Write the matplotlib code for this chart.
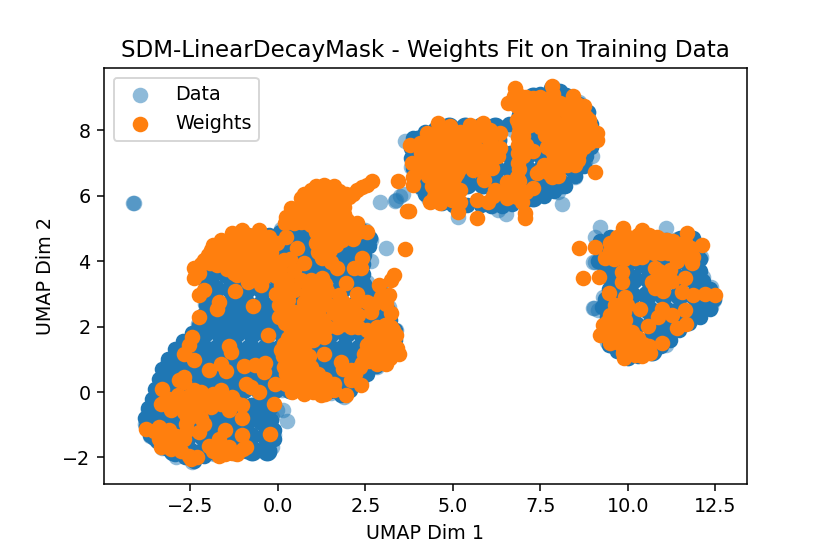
import matplotlib
matplotlib.use("Agg")
import matplotlib.pyplot as plt

BLUE = "#1f77b4"
ORANGE = "#ff7f0e"

# --- Data series: sparse outer points
data_edge = [
    (-3.80,-0.97),(-3.70,-0.56),(-3.50,-0.15),(-3.36,0.36),(-3.17,0.87),(-2.90,1.20),(-2.52,1.58),(-2.28,2.09),
    (-2.08,2.70),(-2.03,3.21),(-2.28,3.78),(-1.95,4.22),(-1.60,4.62),(-1.12,4.85),(-0.49,4.85),(0.08,4.98),
    (-3.66,-1.33),(-3.32,-1.72),(-2.90,-1.98),(-2.45,-2.15),(-1.83,-1.90),(-1.26,-1.85),(-0.68,-1.80),(-0.16,-1.68),
    (-0.10,-1.30),(-0.18,-0.76),(-0.26,-0.25),(0.12,0.06),(0.74,0.03),(1.51,-0.02),(1.89,-0.16),(2.36,0.30),
    (2.82,0.76),(3.33,1.28),(3.37,1.89),(3.18,2.60),(3.04,3.05),(2.48,3.25),(2.42,4.13),(2.65,4.64),(2.48,4.95),
    (3.63,7.66),(3.80,6.89),(4.12,6.20),(4.30,5.92),(4.63,5.80),(6.11,5.69),(7.30,5.94),(8.00,6.12),(8.48,6.58),
    (8.78,7.00),(9.07,7.86),(8.85,8.55),(8.60,8.85),(7.87,9.32),(7.44,9.08),(6.88,8.47),(6.30,8.10),(4.18,7.85),
    (9.06,4.75),(9.18,3.98),(9.48,3.55),(9.30,2.91),(9.40,1.52),(9.54,1.42),(10.01,1.05),(10.63,1.25),(11.10,1.45),
    (11.40,1.95),(11.95,2.30),(12.36,2.60),(12.45,2.81),(12.36,3.22),(12.14,3.52),(12.08,4.14),(12.03,4.50),(11.75,4.70),(11.39,4.68),
]
data_outliers = [
    (0.27,-0.87),(0.13,-0.56),(-0.02,-0.56),(3.08,4.39),(2.92,5.82),(-4.14,5.78),(-4.12,5.78),(3.34,5.84),(3.36,5.86),(3.50,5.98),(3.58,6.05),
    (5.13,5.36),(6.52,5.44),(8.11,5.74),(8.96,7.20),(6.72,8.01),(6.30,5.55),(9.20,5.05),(11.09,5.00),(9.01,2.58),(9.03,2.56),(9.15,2.50),
    (9.01,3.98),(9.06,3.96),(2.55,3.35),(2.65,4.00),
]

# --- Data series: solid boundary of each blob
data_ring_main = [
    (0.05,4.9),(-0.25,4.8),(-0.55,4.8),(-0.85,4.8),(-1.15,4.75),(-1.45,4.6),(-1.7,4.4),(-1.95,4.15),(-2.15,3.85),(-2.2,3.55),
    (-2.05,3.25),(-2.0,2.95),(-2.05,2.65),(-2.15,2.35),(-2.25,2.05),(-2.45,1.8),(-2.7,1.55),(-2.95,1.3),(-3.15,1.0),(-3.3,0.7),
    (-3.4,0.4),(-3.5,0.1),(-3.6,-0.2),(-3.7,-0.5),(-3.8,-0.8),(-3.78,-1.05),(-3.65,-1.3),(-3.45,-1.5),(-3.2,-1.7),(-2.95,-1.9),
    (-2.65,-2.0),(-2.4,-2.1),(-2.1,-1.95),(-1.8,-1.85),(-1.5,-1.82),(-1.2,-1.82),(-0.9,-1.8),(-0.6,-1.78),(-0.3,-1.7),(-0.12,-1.45),
    (-0.12,-1.15),(-0.2,-0.85),(-0.25,-0.55),(-0.3,-0.3),(0.0,0.1),(0.3,0.08),(0.6,0.08),(0.9,0.05),(1.2,0.05),(1.5,0.02),(1.8,-0.1),
    (2.05,0.05),(2.3,0.3),(2.55,0.55),(2.8,0.8),(3.05,1.05),(3.3,1.3),(3.35,1.6),(3.33,1.9),(3.2,2.2),(3.15,2.5),(3.05,2.8),(2.95,3.05),
    (2.7,3.1),(2.45,3.3),(2.42,3.6),(2.42,3.9),(2.45,4.2),(2.6,4.45),(2.62,4.7),(2.45,4.9),(2.3,5.05),
]
data_ring_upper = [
    (3.85,7.75),(3.8,7.45),(3.8,7.15),(3.85,6.85),(3.9,6.55),(4.05,6.3),(4.2,6.05),(4.4,5.85),(4.7,5.78),(5.0,5.72),(5.4,5.72),
    (5.8,5.72),(6.1,5.68),(6.4,5.68),(6.7,5.75),(7.0,5.8),(7.3,5.95),(7.6,6.0),(7.9,6.15),(8.2,6.3),(8.5,6.6),(8.75,6.9),(8.8,7.2),
    (8.95,7.5),(9.05,7.85),(8.95,8.2),(8.85,8.55),(8.6,8.8),(8.3,9.0),(8.05,9.2),(7.8,9.3),(7.5,9.1),(7.2,9.0),(6.95,8.75),(6.9,8.45),
    (6.6,8.2),(6.3,8.1),(6.0,8.0),(5.7,8.0),(5.4,8.0),(5.1,8.0),(4.8,8.0),(4.5,8.05),(4.2,7.95),
]
data_ring_right = [
    (9.2,4.6),(9.3,4.3),(9.15,4.0),(9.35,3.75),(9.5,3.45),(9.45,3.15),(9.35,2.85),(9.25,2.6),(9.4,2.3),(9.35,2.0),(9.35,1.7),(9.45,1.45),
    (9.7,1.25),(10.0,1.05),(10.3,1.1),(10.65,1.25),(10.95,1.4),(11.2,1.6),(11.45,1.9),(11.75,2.1),(12.05,2.3),(12.35,2.55),(12.45,2.85),
    (12.35,3.15),(12.15,3.4),(12.05,3.7),(12.05,4.05),(12.0,4.4),(11.85,4.7),(11.5,4.7),(11.1,4.65),(10.7,4.7),(10.3,4.7),(9.9,4.7),(9.5,4.75),
]

# --- Data series: the dense body, row by row (y, x values)
data_body_lower = [
    (-1.80,[-3.00,-2.55,-2.10,-1.65,-1.20,-0.75,-0.30]),
    (-1.35,[-3.50,-3.05,-2.60,-2.15,-1.70,-1.25,-0.80,-0.35]),
    (-0.90,[-3.60,-3.15,-2.70,-2.25,-1.80,-1.35,-0.90,-0.45,-0.28]),
    (-0.45,[-3.45,-3.00,-2.55,-2.10,-1.65,-1.20,-0.75,-0.42]),
    (0.10,[-3.25,-2.80,-2.35,-1.90,-1.45,-1.00,-0.55,-0.10,0.35,0.80,1.25,1.70]),
    (0.50,[-3.05,-2.60,-2.15,-1.70,-1.25,-0.80,-0.35,0.10,0.55,1.00,1.45,1.90,2.30]),
    (0.90,[-2.85,-2.40,-1.95,-1.50,-1.05,-0.60,-0.15,0.30,0.75,1.20,1.65,2.10,2.60]),
    (1.35,[-2.60,-2.15,-1.70,-1.25,-0.80,-0.35,0.10,0.55,1.00,1.45,1.90,2.35,2.80,3.00]),
    (1.80,[-2.10,-1.65,-1.20,-0.75,-0.30,0.15,0.60,1.05,1.50,1.95,2.40,2.85,3.00]),
    (2.25,[-1.90,-1.45,-1.00,-0.55,-0.10,0.35,0.80,1.25,1.70,2.15,2.60,2.85]),
    (2.70,[-1.80,-1.35,-0.90,-0.45,0.00,0.45,0.90,1.35,1.80,2.25,2.75]),
    (3.15,[-1.80,-1.35,-0.90,-0.45,0.00,0.45,0.90,1.35,1.80,2.25,2.40]),
    (3.60,[-1.90,-1.45,-1.00,-0.55,-0.10,0.35,0.80,1.25,1.70,2.15]),
    (4.05,[-1.65,-1.20,-0.75,-0.30,0.15,0.60,1.05,1.50,1.95,2.15]),
    (4.50,[-1.30,-0.85,-0.40,0.05,0.50,0.95,1.40,1.85,2.30]),
    (4.90,[0.30,0.75,1.20,1.65,2.10,2.35]),
]
data_body_upper = [
    (5.95,[4.45,4.90,6.25,6.70,7.30]),
    (6.35,[4.05,4.50,4.95,5.40,5.85,6.30,6.75,7.20,7.65,8.10]),
    (6.80,[3.95,4.40,4.85,5.30,5.75,6.20,6.65,7.10,7.55,8.00,8.45]),
    (7.25,[3.95,4.40,4.85,5.30,5.75,6.20,6.65,7.10,7.55,8.00,8.55]),
    (7.70,[4.00,4.45,4.90,5.35,5.80,6.25,7.20,7.65,8.10,8.55,8.75]),
    (8.10,[4.90,5.35,5.80,6.20,7.20,7.65,8.10,8.65]),
    (8.55,[7.00,7.45,7.90,8.35,8.50]),
    (9.00,[7.30,7.75,8.20]),
]
data_body_right = [
    (4.45,[9.60,10.05,10.50,10.95,11.40,11.75]),
    (3.95,[9.50,9.95,10.40,10.85,11.30,11.75]),
    (3.45,[9.70,10.15,10.60,11.05,11.50,11.90]),
    (2.95,[9.65,10.10,10.55,11.00,11.45,11.90,12.10]),
    (2.50,[9.70,10.15,10.60,11.05,11.50,11.95]),
    (2.05,[9.75,10.20,10.65,11.10,11.40]),
    (1.60,[9.75,10.20,10.65,10.85]),
    (1.25,[10.05,10.45,10.70]),
]

# --- Weights series
weights_lower = [
    (-3.78,-1.12),(-3.40,-1.07),(-3.11,-1.17),(-3.40,-1.43),(-3.35,-1.68),(-3.02,-1.58),(-2.68,-1.43),(-2.78,-1.79),
    (-2.49,-2.04),(-2.30,-1.98),(-2.64,-0.97),(-2.68,-0.61),(-2.26,-1.22),(-2.11,-0.97),(-2.45,-0.56),(-3.30,0.10),
    (-3.35,-0.36),(-3.07,-0.56),(-2.97,-0.20),(-2.59,-0.15),(-2.21,0.00),(-2.26,-0.36),(-1.87,-0.05),(-1.64,0.05),
    (-1.92,-0.46),(-1.64,-0.36),(-1.30,-0.15),(-1.40,-0.56),(-1.02,-0.41),(-1.02,-0.79),(-2.68,0.46),(-2.83,0.36),
    (-2.68,0.30),(-2.68,1.17),(-2.45,1.68),(-2.40,0.97),(-2.55,1.43),(-2.26,2.28),(-2.11,3.11),(-2.25,2.95),
    (-1.68,2.76),(-1.73,2.55),(-1.24,3.08),(-0.71,2.62),(-1.40,1.41),(-1.33,1.23),(-0.28,1.74),(-1.97,0.66),
    (-1.62,0.87),(-1.49,0.64),(-0.97,0.79),(-0.67,0.82),(-0.37,0.89),(-0.40,0.61),(-0.92,0.26),(-0.78,0.16),
    (-0.54,0.00),(-0.11,-0.38),(-0.23,-1.27),(-1.02,-1.30),(-1.52,-1.17),(-1.68,-1.43),(-1.97,-1.66),(-1.68,-1.94),
    (-1.40,-1.68),(-1.16,-1.89),(-0.92,-1.68),(-1.64,-1.68),
    (-3.25,-1.30),(-3.10,-1.40),(-3.20,-1.65),(-2.90,-1.35),(-3.25,-0.30),(-3.10,-0.20),(-2.75,-0.35),(-2.40,-0.20),
    (-2.00,-0.20),(-1.70,-0.15),(-1.50,-0.30),(-2.60,-1.15),(-2.55,-1.95),(-1.50,-1.90),(-1.30,-1.85),(-2.20,-0.80),
    (-2.55,-0.80),(-3.05,-1.75),(-2.85,-1.65),
    (-3.55,-1.20),(-3.20,-1.50),(-2.95,-1.35),(-2.85,-1.45),(-2.60,-0.75),(-2.30,-0.55),(-2.00,-0.35),(-1.75,-0.25),
    (-1.20,-0.35),(-3.15,-0.40),(-2.85,-0.10),(-2.40,0.05),(-1.85,-1.80),(-1.45,-1.85),(-1.00,-1.75),
]
weights_middle = [
    (-2.40,3.78),(-2.40,3.47),(-2.11,4.03),(-1.92,4.34),(-1.64,4.64),(-1.30,4.85),(-1.02,4.95),(-0.54,4.95),
    (-1.73,3.88),(-1.30,3.88),(-1.16,3.57),(-0.87,3.37),(-0.49,3.27),(-0.26,4.75),(-0.21,4.29),(-1.54,4.34),
    (-1.16,4.44),(-0.78,4.54),(-0.49,4.39),(-0.97,4.03),(-0.59,4.03),(-0.30,3.78),(-0.68,3.62),(0.22,4.75),
    (-0.02,4.54),(0.55,4.39),(0.17,4.03),(0.74,3.93),(1.13,4.29),(1.51,3.98),(1.70,3.78),(0.46,3.73),(0.08,3.52),
    (-0.07,3.01),(0.08,3.27),(0.03,2.65),(0.03,2.30),(0.36,2.30),(0.27,3.42),(0.65,3.42),(0.93,3.42),(1.27,3.47),
    (1.13,3.11),(0.84,3.01),(0.46,3.11),(0.93,2.65),(0.74,2.45),(1.13,2.45),(1.41,2.70),(1.74,2.96),(1.60,2.40),
    (2.27,3.01),(2.17,2.65),(2.08,2.30),(1.89,2.09),(1.70,1.99),(0.74,1.99),(0.36,1.89),(1.03,1.89),(1.32,1.68),
    (0.93,1.58),(0.55,1.58),(0.17,1.48),(0.08,1.28),(0.46,1.17),(0.74,1.28),(1.32,1.17),(0.17,0.77),(0.22,0.56),
    (0.84,0.82),(0.84,0.46),(1.13,0.56),(-0.09,0.24),(0.22,0.26),(0.41,0.00),(0.74,-0.05),(1.22,-0.10),(1.13,0.26),
    (1.60,0.26),(1.93,-0.10),(1.79,0.92),(2.08,0.66),(2.08,0.36),(2.36,0.20),(2.46,1.17),(2.65,1.07),(2.84,0.87),
    (3.08,0.87),(3.46,1.17),(3.22,1.28),(2.94,1.38),(2.65,1.58),(2.55,1.89),(2.84,2.00),(3.22,2.00),(3.36,1.74),
    (3.03,1.68),(2.74,2.70),(2.65,2.45),(3.22,2.40),(3.17,2.96),(2.89,3.27),(3.22,3.42),(3.32,3.57),(3.63,4.36),
    (3.70,5.53),(1.93,3.32),(2.17,3.78),(2.41,4.08),(2.36,3.78),(2.55,4.90),(2.27,5.15),(1.98,5.26),(1.84,4.64),
    (2.13,4.69),(1.51,4.69),(1.22,4.64),(1.22,4.95),(0.22,5.36),(0.36,5.61),(0.65,5.92),(0.93,6.17),(1.32,6.33),
    (1.60,6.28),(0.74,5.46),(1.13,5.66),(1.51,5.77),(1.13,5.15),(1.60,5.26),(1.89,5.66),(0.84,5.87),(1.22,5.97),
    (1.70,5.97),(0.46,5.15),(0.80,5.20),(1.40,5.40),(2.03,5.97),(2.27,6.17),(2.55,6.33),(2.70,6.45),
    (-1.80,4.20),(-1.50,4.10),(-1.20,4.15),(-1.45,3.75),(-1.05,3.65),(-1.00,4.65),(-1.30,4.55),(-0.60,4.70),(-0.75,4.20),
    (-0.40,4.65),(-0.80,3.85),(-0.50,3.75),(-0.55,3.45),(-0.20,3.95),(-2.20,3.90),(-2.00,4.20),(-1.95,3.95),(-2.25,3.65),
    (0.40,5.40),(0.60,5.65),(0.90,5.60),(1.00,5.95),(1.30,5.80),(1.45,6.10),(1.10,6.30),(0.75,6.05),(0.55,5.40),(0.90,5.35),
    (1.30,5.50),(1.70,5.50),(1.85,5.35),(1.45,5.00),(1.70,5.05),(1.10,4.90),(0.35,5.25),(0.20,5.15),(1.40,4.80),(1.50,4.35),
    (1.35,4.50),(1.25,4.10),(1.85,5.90),(1.95,6.05),(2.15,6.05),(2.40,6.25),(1.75,6.15),
    (0.10,3.00),(0.20,2.70),(0.20,2.45),(0.30,3.20),(0.90,3.20),(0.95,2.90),(1.20,2.80),(0.75,2.75),(1.00,2.30),(0.55,2.20),
    (0.20,2.10),(0.80,2.15),(1.30,2.20),(1.40,2.00),(0.55,1.90),(0.85,1.75),(0.30,1.65),(0.15,1.10),(0.60,0.90),(0.75,1.05),
    (0.90,1.10),(0.55,0.70),(0.35,0.45),(0.55,0.30),(0.95,0.15),(0.65,0.20),(0.40,0.20),(1.35,0.10),(1.60,0.05),(1.35,0.40),
    (1.00,0.00),(2.30,2.35),(2.30,2.00),(2.10,2.00),(1.90,2.60),(1.85,2.30),(2.55,1.45),(2.85,1.60),(3.10,1.45),(3.00,1.95),
    (3.30,1.50),(3.40,1.35),(3.10,1.10),(2.80,1.10),(2.60,1.30),(2.95,1.15),(3.20,1.05),(2.40,0.90),(1.85,0.70),(3.10,2.70),
    (2.95,2.90),(2.55,2.75),(0.05,3.75),(-0.05,3.55),
    (0.30,2.80),(1.05,3.25),(1.00,3.05),(1.35,3.30),(1.40,3.10),(1.20,3.35),(1.55,2.60),(1.85,2.75),(2.00,2.55),(1.95,2.15),
    (0.60,2.40),(0.50,2.45),(0.95,2.05),(1.20,2.10),(1.15,1.75),(1.00,1.60),(0.65,1.35),(0.30,1.25),(0.35,0.85),(0.40,0.65),
    (0.60,0.50),(0.80,0.60),(0.95,0.75),(0.95,0.45),(1.15,0.15),(1.50,0.10),(1.35,-0.05),(2.20,0.55),(2.35,0.75),(2.60,0.95),
    (2.90,1.65),(3.05,2.05),(3.30,1.90),(2.70,1.80),(2.85,1.30),(3.25,1.20),
    (-1.85,4.50),(-1.70,4.35),(-1.50,4.50),(-1.15,4.70),(-0.85,4.80),(-0.65,4.40),(-1.35,4.25),(-1.10,4.25),(-0.85,4.30),
    (-1.25,3.65),(-1.15,3.85),(-0.95,3.80),(-0.75,3.65),(-0.40,3.50),(-0.40,4.10),(-0.10,4.00),(-0.15,3.65),(0.35,4.05),
    (0.50,5.20),(0.65,5.20),(0.95,5.10),(0.70,5.70),(0.50,5.55),(1.35,6.00),(1.55,5.85),(1.30,5.15),(1.40,5.20),(1.75,5.75),
    (1.05,5.35),(1.10,4.55),(1.35,4.30),(1.85,4.90),(2.05,4.95),(2.30,4.90),(1.65,4.50),(1.90,5.45),
]
weights_upper = [
    (3.77,7.55),(3.82,6.99),(3.87,6.58),(3.87,6.33),(3.44,6.46),(3.73,5.54),(5.15,5.51),(5.68,5.31),(7.06,5.31),
    (9.06,6.71),(5.89,6.48),(4.58,8.22),(4.92,8.12),(5.49,8.17),(5.87,8.22),(6.34,7.91),(4.25,7.91),(4.06,7.60),
    (4.25,7.30),(4.53,7.81),(4.82,7.81),(5.11,7.81),(4.53,7.40),(4.87,7.40),(5.20,7.40),(4.25,6.89),(4.63,6.99),
    (5.01,6.89),(5.39,7.09),(4.87,6.58),(5.11,6.69),(5.63,7.76),(6.01,7.76),(5.73,7.40),(6.34,7.45),(5.68,6.89),
    (6.11,6.84),(5.92,7.20),(5.58,6.79),(4.39,6.28),(4.68,6.18),(5.01,6.28),(5.20,6.18),(4.34,5.82),(4.63,5.77),
    (4.96,5.87),(5.20,5.82),(5.68,5.87),(6.01,5.82),(6.20,6.18),(6.53,6.43),(6.82,6.58),(6.87,6.99),(6.87,7.55),
    (7.11,7.40),(7.30,7.35),(7.01,7.81),(6.53,5.92),(6.82,5.97),(7.30,6.23),(6.96,5.82),(7.06,5.46),(6.82,6.28),
    (4.50,7.10),(4.85,7.10),(5.10,7.10),(4.60,6.60),(4.90,6.30),(4.55,6.40),(6.77,9.29),(6.58,8.83),(6.92,9.03),
    (7.30,8.98),(7.82,9.34),(7.68,8.93),(8.06,8.83),(8.44,9.03),(8.73,8.73),(6.82,8.73),(7.11,8.52),(6.82,8.32),
    (7.20,8.17),(7.58,8.52),(7.87,8.37),(8.25,8.52),(8.63,8.42),(8.92,8.12),(9.11,7.91),(9.11,7.71),(7.63,7.86),
    (7.96,8.01),(8.34,8.01),(8.73,7.91),(7.82,7.66),(8.25,7.66),(8.73,7.50),(7.82,7.35),(8.15,7.30),(8.58,7.09),
    (8.34,7.40),(7.39,6.69),(7.68,6.84),(8.06,6.89),(8.25,6.94),(7.82,6.58),
    (4.20,7.60),(4.40,7.60),(4.70,7.60),(5.00,7.60),(4.40,7.15),(4.70,7.30),(4.40,6.95),(4.45,6.75),(4.75,6.75),(5.15,6.95),
    (4.90,6.95),(5.00,6.45),(4.75,6.40),(4.50,6.10),(4.85,6.05),(4.45,5.95),(4.75,5.95),(5.05,6.05),(5.30,7.70),(5.25,7.15),
    (4.20,7.10),(5.10,7.20),(5.05,6.60),(6.10,7.60),(5.80,7.05),(5.50,7.90),(5.70,8.00),(6.15,6.00),(6.40,6.10),(6.70,6.20),
    (6.65,6.10),(6.95,6.15),(6.90,6.80),(6.90,6.45),(7.00,7.20),(6.85,7.30),(7.10,6.10),
    (6.95,8.85),(7.15,8.80),(7.45,8.75),(7.00,8.30),(7.00,8.05),(7.25,8.70),(7.90,8.80),(8.30,8.80),(8.55,8.80),(8.45,8.35),
    (8.35,8.25),(8.55,8.10),(8.70,8.20),(8.90,7.80),(8.50,7.70),(8.45,7.50),(8.60,7.30),(8.10,7.75),(8.00,7.55),(8.05,7.10),
    (7.95,6.75),(7.50,8.10),(7.70,8.20),(6.85,7.80),(6.90,7.95),(7.90,7.15),(8.50,6.95),
    (4.10,7.30),(4.10,7.00),(4.30,7.50),(4.60,7.95),(4.90,7.95),(5.20,7.95),(4.70,7.15),(4.95,7.55),(5.10,7.50),(5.35,7.50),
    (5.40,7.30),(5.50,7.50),(4.30,6.60),(4.10,6.75),(4.55,6.85),(4.80,6.60),(5.20,6.85),(5.30,6.95),(4.40,6.50),(4.65,6.35),
    (5.05,5.95),(4.55,5.95),(6.10,7.95),(6.20,7.30),(6.30,7.20),(5.55,7.25),(5.55,7.00),(5.90,6.85),(6.00,7.00),(5.55,8.05),
    (5.75,8.10),(6.05,8.00),
    (6.75,9.05),(7.10,9.00),(7.50,9.00),(7.30,8.70),(7.60,8.75),(7.85,9.10),(7.90,8.60),(8.15,8.65),(8.45,8.65),(8.65,8.60),
    (8.80,8.40),(8.90,8.30),(8.85,7.95),(8.75,7.70),(8.90,7.60),(8.55,7.90),(8.15,8.20),(7.95,8.20),(7.45,8.35),(7.20,8.35),
    (7.30,8.50),(6.95,8.55),(6.90,8.15),(7.00,7.95),(7.00,7.65),(7.10,7.55),(7.90,7.85),(8.15,7.95),(8.10,7.50),(8.35,7.70),
    (8.50,7.40),(8.35,7.15),(7.95,7.40),(7.70,7.50),(7.60,6.95),(7.50,6.75),(7.75,6.70),(8.00,6.60),(8.40,7.00),(8.60,7.55),
    (6.65,8.85),
]
weights_right = [
    (8.61,4.39),(9.06,4.42),(8.71,3.49),(9.16,3.50),(9.87,5.00),(10.39,4.95),(10.82,4.75),(11.11,4.65),(11.68,4.85),
    (12.11,4.49),(9.49,4.54),(9.35,4.08),(9.77,4.65),(10.16,4.65),(10.54,4.54),(10.92,4.44),(10.39,4.14),(11.35,4.29),
    (11.63,4.59),(11.87,4.14),(11.82,3.93),(9.82,3.68),(9.82,3.37),(10.77,3.78),(10.96,3.47),(10.77,3.17),(11.20,3.73),
    (11.63,3.47),(11.54,3.06),(11.87,2.96),(12.20,3.01),(12.49,2.96),(9.47,3.03),(9.92,2.91),(9.96,2.66),(9.63,2.66),
    (10.35,2.55),(10.96,2.55),(10.87,2.30),(11.25,2.35),(11.63,2.50),(11.66,2.07),(11.39,1.96),(10.56,2.01),(10.96,1.50),
    (9.49,2.35),(9.30,2.04),(9.20,1.74),(9.73,2.25),(9.92,2.20),(9.58,1.94),(9.87,1.79),(9.68,1.53),(10.01,1.48),
    (10.20,1.13),(10.44,1.48),(10.63,1.18),(9.87,1.33),(9.44,1.69),(10.11,1.84),(9.90,4.30),(10.00,4.75),(10.60,4.80),
    (11.00,3.10),(11.25,3.40),
    (9.60,4.30),(9.90,4.50),(10.15,4.45),(10.35,4.50),(10.70,4.45),(11.00,4.65),(11.60,4.20),(11.40,4.00),(11.05,3.55),
    (9.55,4.25),(9.60,4.05),(9.90,4.05),(10.00,4.20),(10.20,4.10),(10.80,4.50),(9.65,1.80),(9.45,1.95),(9.40,2.15),(9.65,2.10),
    (9.85,2.00),(9.70,2.40),(9.95,1.55),(10.25,1.35),(10.30,1.65),(10.00,1.25),(10.60,1.40),(9.90,1.05),(10.40,1.10),(9.50,1.50),
    (9.35,1.80),(10.90,3.70),(10.70,3.35),(11.00,3.30),
    (9.70,4.75),(10.30,4.80),(10.50,4.70),(10.75,4.60),(11.15,4.45),(11.30,4.60),(11.55,4.40),(11.80,4.40),(10.10,4.30),
    (10.55,4.30),(10.75,4.25),(10.95,4.25),(11.15,4.25),(9.50,4.30),(9.65,4.55),(9.50,1.75),(9.45,1.65),(9.60,1.55),(9.75,1.75),
    (9.75,1.55),(10.05,1.70),(9.70,2.05),(9.90,2.45),(10.15,1.25),(10.20,1.55),(10.40,1.30),(9.85,1.20),(9.50,2.15),
]

TITLE = "SDM-LinearDecayMask - Weights Fit on Training Data"
XLABEL = "UMAP Dim 1"
YLABEL = "UMAP Dim 2"
XTICKS = [-2.5, 0.0, 2.5, 5.0, 7.5, 10.0, 12.5]
YTICKS = [-2, 0, 2, 4, 6, 8]


def unpack(pairs):
    return [p[0] for p in pairs], [p[1] for p in pairs]


def unpack_rows(rows):
    xs, ys = [], []
    for y, row in rows:
        xs += row
        ys += [y] * len(row)
    return xs, ys


DPI = 138
fig = plt.figure(figsize=(830 / DPI, 553 / DPI), dpi=DPI)
ax = fig.add_axes([104 / 830, (553 - 484) / 553, 643 / 830, 416 / 553])

ex, ey = unpack(data_edge + data_outliers)
ax.scatter(ex, ey, s=66, color=BLUE, alpha=0.5, linewidths=0, label="Data")
rx, ry = unpack(data_ring_main + data_ring_upper + data_ring_right)
ax.scatter(rx, ry, s=66, color=BLUE, linewidths=0)
for rows in (data_body_lower, data_body_upper, data_body_right):
    bx, by = unpack_rows(rows)
    ax.scatter(bx, by, s=108, color=BLUE, linewidths=0)

wx, wy = unpack(weights_lower + weights_middle + weights_upper + weights_right)
ax.scatter(wx, wy, s=66, color=ORANGE, linewidths=0, label="Weights")

ax.set_xlim(-4.97, 13.40)
ax.set_ylim(-2.81, 9.90)
ax.set_xticks(XTICKS)
ax.set_yticks(YTICKS)
ax.set_title(TITLE, fontsize=12)
ax.set_xlabel(XLABEL)
ax.set_ylabel(YLABEL)
ax.legend(loc="upper left")

fig.savefig("out.png", dpi=DPI)
